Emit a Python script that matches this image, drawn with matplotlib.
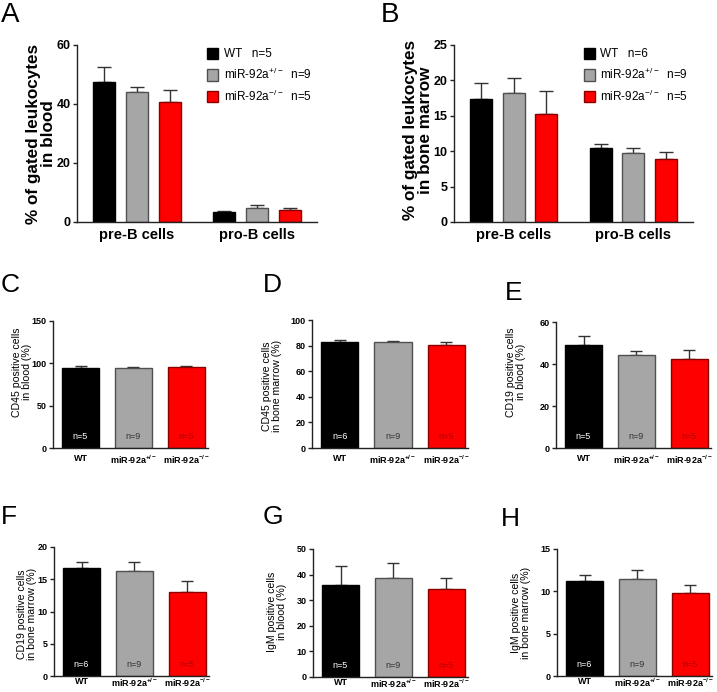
import matplotlib
matplotlib.use('Agg')
import matplotlib.pyplot as plt
import matplotlib.transforms as mtransforms
import numpy as np

plt.rcParams['font.family'] = ['Liberation Sans', 'DejaVu Sans']
plt.rcParams['mathtext.fontset'] = 'custom'
plt.rcParams['mathtext.rm'] = 'Liberation Sans'
plt.rcParams['mathtext.bf'] = 'Liberation Sans:bold'
plt.rcParams['mathtext.default'] = 'regular'

# ---- data ----
genotypes = ['WT', 'miR-92a$^{+/-}$', 'miR-92a$^{-/-}$']
genotype_ticks = ['WT', r'miR-92a$^{\mathbf{+/-}}$', r'miR-92a$^{\mathbf{-/-}}$']
cell_types = ['pre-B cells', 'pro-B cells']

# panel A: blood (n = 5, 9, 5)
blood_mean = [[47.6, 3.4], [44.2, 4.7], [40.8, 4.1]]
blood_err = [[4.8, 0.3], [1.7, 1.0], [3.9, 0.5]]
blood_n = [5, 9, 5]
# panel B: bone marrow (n = 6, 9, 5)
bm_mean = [[17.4, 10.4], [18.2, 9.7], [15.3, 8.9]]
bm_err = [[2.3, 0.6], [2.2, 0.7], [3.2, 1.0]]
bm_n = [6, 9, 5]

# panels C-H
cd45_blood = [94.2, 94.0, 96.1]
cd45_blood_err = [2.8, 2.0, 0.9]
cd45_bm = [82.6, 82.6, 80.5]
cd45_bm_err = [1.8, 1.0, 2.6]
cd19_blood = [48.9, 44.5, 42.5]
cd19_blood_err = [4.3, 1.8, 4.4]
cd19_bm = [16.8, 16.3, 13.1]
cd19_bm_err = [0.8, 1.3, 1.6]
igm_blood = [35.9, 38.8, 34.2]
igm_blood_err = [7.6, 5.6, 4.3]
igm_bm = [11.25, 11.45, 9.83]
igm_bm_err = [0.65, 1.1, 0.97]

colors = ['#000000', '#a6a6a6', '#ff0000']
edges = ['#000000', '#505050', '#8a0000']
ncolors = ['#ffffff', '#333333', '#b00000']
errcol = '#333333'

W, H = 717, 692
fig = plt.figure(figsize=(W / 100, H / 100), dpi=100)


def add_ax(l, r, t, b):
    return fig.add_axes([l / W, 1 - b / H, (r - l) / W, (b - t) / H])


def style(ax, ysize, xsize, xpad=4):
    for s in ['top', 'right']:
        ax.spines[s].set_visible(False)
    for s in ['left', 'bottom']:
        ax.spines[s].set_linewidth(1.0)
        ax.spines[s].set_color('#222222')
    ax.tick_params(axis='y', length=3, width=1, pad=1.5, labelsize=ysize, color='#222222')
    ax.tick_params(axis='x', length=0, pad=xpad, labelsize=xsize)
    for lab in ax.get_yticklabels() + ax.get_xticklabels():
        lab.set_fontweight('bold')


def grouped(ax, means, errs, ns, ymax, ystep, label, lx, ly, letter, letx, lety):
    gpos = np.array([0.0, 3.67])
    for i in range(3):
        x = gpos + (i - 1)
        ax.bar(x, means[i], width=0.67, color=colors[i], edgecolor=edges[i], linewidth=1,
               label=f'{genotypes[i]}{"   " if i == 0 else "  "}n={ns[i]}', zorder=2)
        ax.errorbar(x, means[i], yerr=[np.zeros(2), errs[i]], fmt='none', ecolor=errcol,
                    elinewidth=1, capsize=5.2, capthick=1, zorder=1)
    ax.set_xlim(-1.83, 5.5)
    ax.set_ylim(0, ymax)
    ax.set_yticks(np.arange(0, ymax + 0.01, ystep))
    ax.set_xticks(gpos)
    ax.set_xticklabels(cell_types)
    style(ax, 9, 10.5)
    ax.legend(loc='upper left', bbox_to_anchor=(0.542, 0.985), frameon=False, borderpad=0,
              borderaxespad=0, handlelength=0.95, handleheight=1.1, handletextpad=0.45,
              labelspacing=0.55, fontsize=8.5)
    fig.text(lx / W, 1 - ly / H, label, rotation=90, ha='center', va='center',
             multialignment='center', fontsize=12.3, fontweight='bold', linespacing=1.05)
    fig.text(letx / W, 1 - lety / H, letter, fontsize=20, ha='left', va='top')


def simple(ax, means, errs, ns, ymax, ystep, label, lx, ly, letter, letx, lety, xpad=4):
    x = np.arange(3)
    ax.bar(x, means, width=0.7, color=colors, edgecolor=edges, linewidth=1, zorder=2)
    ax.errorbar(x, means, yerr=[np.zeros(3), errs], fmt='none', ecolor=errcol,
                elinewidth=1, capsize=4.6, capthick=1, zorder=1)
    tr = mtransforms.blended_transform_factory(ax.transData, ax.transAxes)
    for i in range(3):
        ax.text(x[i], 0.09, f'n={ns[i]}', transform=tr, ha='center', va='center',
                fontsize=6.5, color=ncolors[i], zorder=3)
    ax.set_xlim(-0.52, 2.41)
    ax.set_ylim(0, ymax)
    ax.set_yticks(np.arange(0, ymax + 0.01, ystep))
    ax.set_xticks(x)
    ax.set_xticklabels(genotype_ticks)
    style(ax, 6.5, 6.5, xpad)
    fig.text(lx / W, 1 - ly / H, label, rotation=90, ha='center', va='center',
             multialignment='center', fontsize=7.6, linespacing=1.0)
    fig.text(letx / W, 1 - lety / H, letter, fontsize=19, ha='left', va='top')


axA = add_ax(77, 317, 45, 222)
grouped(axA, blood_mean, blood_err, blood_n, 60, 20,
        '% of gated leukocytes\nin blood', 41, 134, 'A', 1, 2)
axB = add_ax(454, 693, 45, 222)
grouped(axB, bm_mean, bm_err, bm_n, 25, 5,
        '% of gated leukocytes\nin bone marrow', 418, 130, 'B', 381, 2)

axC = add_ax(53, 208, 321, 448)
simple(axC, cd45_blood, cd45_blood_err, [5, 9, 5], 150, 50,
       'CD45 positive cells\nin blood (%)', 22, 372, 'C', 1, 273)
axD = add_ax(312, 468, 320, 448)
simple(axD, cd45_bm, cd45_bm_err, [6, 9, 5], 100, 20,
       'CD45 positive cells\nin bone marrow (%)', 272, 386, 'D', 263, 273)
axE = add_ax(556, 711, 322, 448)
simple(axE, cd19_blood, cd19_blood_err, [5, 9, 5], 60, 20,
       'CD19 positive cells\nin blood (%)', 516, 372, 'E', 505, 281)

axF = add_ax(54, 209, 547, 676)
simple(axF, cd19_bm, cd19_bm_err, [6, 9, 5], 20, 5,
       'CD19 positive cells\nin bone marrow (%)', 27, 614, 'F', 1, 505, xpad=0.5)
axG = add_ax(313, 468, 549, 677)
simple(axG, igm_blood, igm_blood_err, [5, 9, 5], 50, 10,
       'IgM positive cells\nin blood (%)', 277, 612, 'G', 263, 505, xpad=0.5)
axH = add_ax(557, 712, 549, 676)
simple(axH, igm_bm, igm_bm_err, [6, 9, 5], 15, 5,
       'IgM positive cells\nin bone marrow (%)', 521, 613, 'H', 501, 507, xpad=0.5)

fig.savefig('out.png', dpi=100)
